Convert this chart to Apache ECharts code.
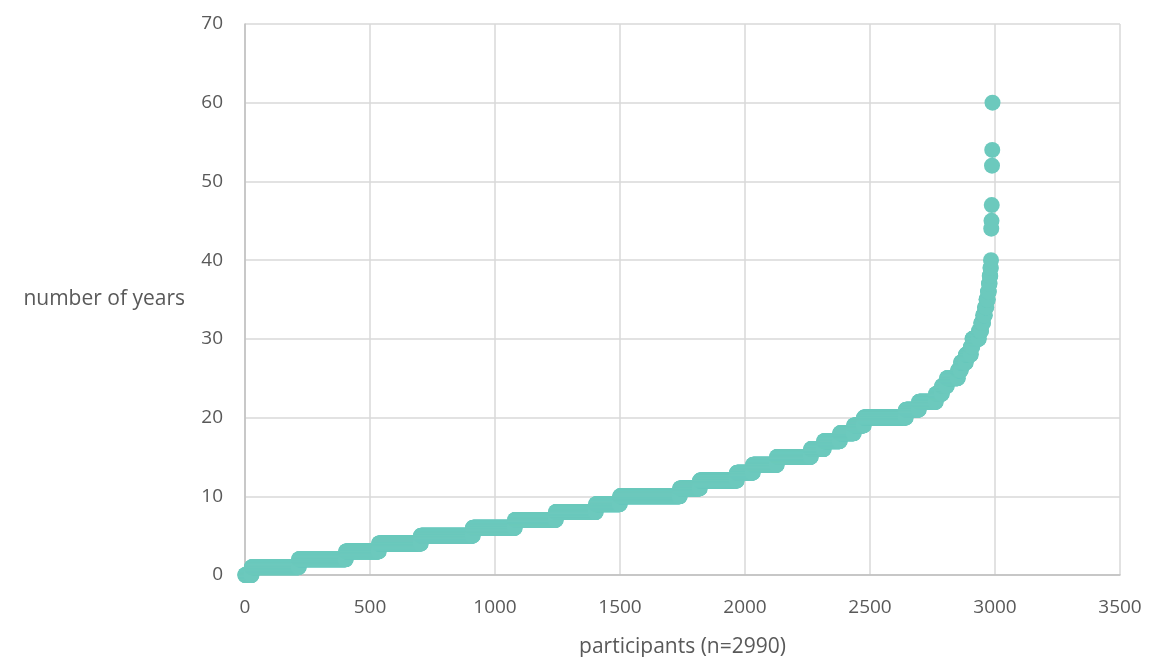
<!DOCTYPE html>
<html>
<head>
<meta charset="utf-8">
<script src="https://cdn.jsdelivr.net/npm/echarts@6/dist/echarts.min.js"></script>
<style>
  html, body { margin: 0; padding: 0; background: #fff; }
  #main { width: 1150px; height: 657px; }
</style>
</head>
<body>
<div id="main"></div>
<script>
// sorted answers, stored as runs: each value of years and how many participants gave it
const years = [0, 1, 2, 3, 4, 5, 6, 7, 8, 9, 10, 11, 12, 13, 14, 15, 16, 17, 18, 19, 20,
  21, 22, 23, 24, 25, 26, 27, 28, 29, 30, 31, 32, 33, 34, 35, 36, 37, 38, 39, 40,
  44, 45, 47, 52, 54, 60];
const counts = [26, 189, 188, 132, 168, 208, 168, 164, 160, 96, 240, 80, 148, 64, 96, 136, 52, 64, 56, 40, 168,
  52, 68, 24, 20, 44, 12, 20, 20, 6, 26, 9, 8, 7, 6, 6, 4, 3, 3, 2, 1,
  1, 1, 1, 1, 1, 1];
const xTicks = [0, 3500, 500];
const yTicks = [0, 70, 10];

// expand runs into one point per participant (participant number, years)
let points = [];
let n = 1;
for (let i = 0; i < years.length; i++) {
  for (let k = 0; k < counts[i]; k++) {
    points.push([n, years[i]]);
    n++;
  }
}

const chart = echarts.init(document.getElementById("main"));
const txt = "#595959";
const font = "'Open Sans', sans-serif";

chart.setOption({
  animation: false,
  grid: { left: 245, right: 30, top: 24, bottom: 82, containLabel: false, outerBoundsMode: "none" },
  xAxis: {
    type: "value",
    min: xTicks[0],
    max: xTicks[1],
    interval: xTicks[2],
    name: "participants (n=2990)",
    nameLocation: "middle",
    nameGap: 62,
    nameTextStyle: { color: txt, fontSize: 21, fontFamily: font },
    axisLine: { show: true, lineStyle: { color: "#bfbfbf", width: 1.5 } },
    axisTick: { show: false },
    axisLabel: { color: txt, fontSize: 19, fontFamily: font, margin: 23, formatter: (v) => String(v) },
    splitLine: { show: true, lineStyle: { color: "#d9d9d9", width: 1.5 } }
  },
  yAxis: {
    type: "value",
    min: yTicks[0],
    max: yTicks[1],
    interval: yTicks[2],
    name: "number of years",
    nameLocation: "middle",
    nameRotate: 0,
    nameGap: 60,
    nameTextStyle: { color: txt, fontSize: 21, fontFamily: font, align: "right", padding: [6, 0, 0, 0] },
    axisLine: { show: true, lineStyle: { color: "#bfbfbf", width: 1.5 } },
    axisTick: { show: false },
    axisLabel: { color: txt, fontSize: 19, fontFamily: font, margin: 22 },
    splitLine: { show: true, lineStyle: { color: "#d9d9d9", width: 1.5 } }
  },
  series: [
    {
      type: "scatter",
      data: points,
      symbol: "circle",
      symbolSize: 16,
      itemStyle: { color: "#6cc9bd", opacity: 1 },
      silent: true
    }
  ]
});
</script>
</body>
</html>
